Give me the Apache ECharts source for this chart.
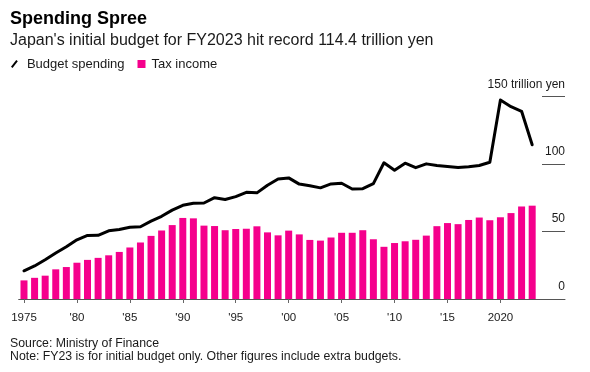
<!DOCTYPE html>
<html>
<head>
<meta charset="utf-8">
<script src="https://cdn.jsdelivr.net/npm/echarts@6/dist/echarts.min.js"></script>
<style>
html,body{margin:0;padding:0;background:#fff;}
#chart{width:590px;height:372px;}
</style>
</head>
<body>
<div id="chart"></div>
<script>
var years = [1975,1976,1977,1978,1979,1980,1981,1982,1983,1984,1985,1986,1987,1988,1989,1990,1991,1992,1993,1994,1995,1996,1997,1998,1999,2000,2001,2002,2003,2004,2005,2006,2007,2008,2009,2010,2011,2012,2013,2014,2015,2016,2017,2018,2019,2020,2021,2022,2023];
var budgetSpending = [20.9,24.5,29.1,34.1,38.8,43.9,47.1,47.2,50.6,51.5,53.2,53.6,57.7,61.3,65.9,69.5,71.0,71.2,75.1,73.8,75.9,79.1,78.7,84.4,89.0,89.8,85.2,84.0,82.4,85.3,85.8,81.6,81.8,85.5,101.0,95.5,100.7,97.4,100.2,99.0,98.2,97.5,98.1,99.0,101.4,147.6,142.6,139.2,114.4];
var taxIncome = [13.8,15.7,17.3,22.0,23.7,26.9,29.0,30.5,32.4,34.9,38.2,41.9,46.8,50.8,54.8,60.1,59.8,54.4,54.1,51.0,51.9,52.1,53.9,49.4,47.2,50.7,47.9,43.8,43.3,45.6,49.1,49.1,51.0,44.3,38.7,41.5,42.8,43.9,47.0,54.0,56.3,55.5,58.6,60.4,58.4,60.6,63.7,68.6,69.2];
var tickYears = [1975,1980,1985,1990,1995,2000,2005,2010,2015,2020];
var tickLabels = ['1975',"'80","'85","'90","'95","'00","'05","'10","'15",'2020'];
var yTicks = [0,50,100,150];
var yTickLabels = ['0','50','100','150 trillion yen'];

var FONT = '"Liberation Sans", Arial, Helvetica, sans-serif';
var PINK = '#f5008c';

var chart = echarts.init(document.getElementById('chart'), null, {renderer:'canvas'});

var spendData = years.map(function(y,i){return [y, budgetSpending[i]];});
var taxData = years.map(function(y,i){return [y, taxIncome[i]];});

var option = {
  animation: false,
  backgroundColor: '#fff',
  textStyle: {fontFamily: FONT},
  title: [
    {text:'Spending Spree', left:10, top:9, padding:0,
     textStyle:{fontFamily:FONT, fontSize:18, fontWeight:'bold', color:'#000', lineHeight:20}},
    {text:"Japan's initial budget for FY2023 hit record 114.4 trillion yen", left:10, top:31, padding:0,
     textStyle:{fontFamily:FONT, fontSize:16, fontWeight:'normal', color:'#1a1a1a', lineHeight:19}},
    {text:'Source: Ministry of Finance', left:10, top:336.5, padding:0,
     textStyle:{fontFamily:FONT, fontSize:12.3, fontWeight:'normal', color:'#1a1a1a', lineHeight:14}},
    {text:'Note: FY23 is for initial budget only. Other figures include extra budgets.', left:10, top:349.5, padding:0,
     textStyle:{fontFamily:FONT, fontSize:12.3, fontWeight:'normal', color:'#1a1a1a', lineHeight:14}}
  ],
  legend: [
    {data:[{name:'Budget spending', icon:'path://M0,9 L7,0 L9,1.6 L2,10.6 Z'}],
     left:11, top:57, padding:0, itemWidth:7, itemHeight:8, selectedMode:false,
     textStyle:{fontFamily:FONT, fontSize:13, color:'#1a1a1a', lineHeight:14, padding:[0,0,0,4]}},
    {data:[{name:'Tax income', icon:'rect'}],
     left:137.5, top:57, padding:0, itemWidth:8, itemHeight:8, selectedMode:false,
     textStyle:{fontFamily:FONT, fontSize:13, color:'#1a1a1a', lineHeight:14, padding:[0,0,0,1]}}
  ],
  grid: [
    {left:18.7, right:25, top:96.7, bottom:73, containLabel:false},
    {left:542, right:25, top:96.7, bottom:73, containLabel:false}
  ],
  xAxis: [
    {type:'value', gridIndex:0, min:1974.5, max:2026.1,
     axisLine:{show:true, onZero:false, lineStyle:{color:'#555', width:1}},
     axisTick:{show:true, customValues:tickYears, length:4, lineStyle:{color:'#666', width:1}},
     axisLabel:{show:true, customValues:tickYears, margin:12, fontFamily:FONT, fontSize:11.5, color:'#1a1a1a', lineHeight:14,
       formatter:function(v){var i=tickYears.indexOf(Math.round(v)); return i>=0?tickLabels[i]:'';}},
     splitLine:{show:false}},
    {type:'value', gridIndex:1, min:0, max:1, show:false}
  ],
  yAxis: [
    {type:'value', gridIndex:0, min:0, max:150, show:false},
    {type:'value', gridIndex:1, position:'right', min:0, max:150, interval:50,
     axisLine:{show:false}, axisTick:{show:false},
     splitLine:{show:true, lineStyle:{color:'#555', width:1}},
     axisLabel:{show:true, inside:true, margin:0, showMinLabel:true, showMaxLabel:true,
       fontFamily:FONT, fontSize:12, color:'#1a1a1a', verticalAlign:'bottom', lineHeight:25,
       formatter:function(v){var i=yTicks.indexOf(v); return i>=0?yTickLabels[i]:'';}}}
  ],
  series: [
    {name:'Tax income', type:'bar', xAxisIndex:0, yAxisIndex:0, data:taxData, barWidth:7,
     itemStyle:{color:PINK}, z:2},
    {name:'Budget spending', type:'line', xAxisIndex:0, yAxisIndex:0, data:spendData,
     symbol:'none', lineStyle:{color:'#000', width:3, join:'round', cap:'round'}, itemStyle:{color:'#000'}, z:3}
  ]
};
chart.setOption(option);
</script>
</body>
</html>
